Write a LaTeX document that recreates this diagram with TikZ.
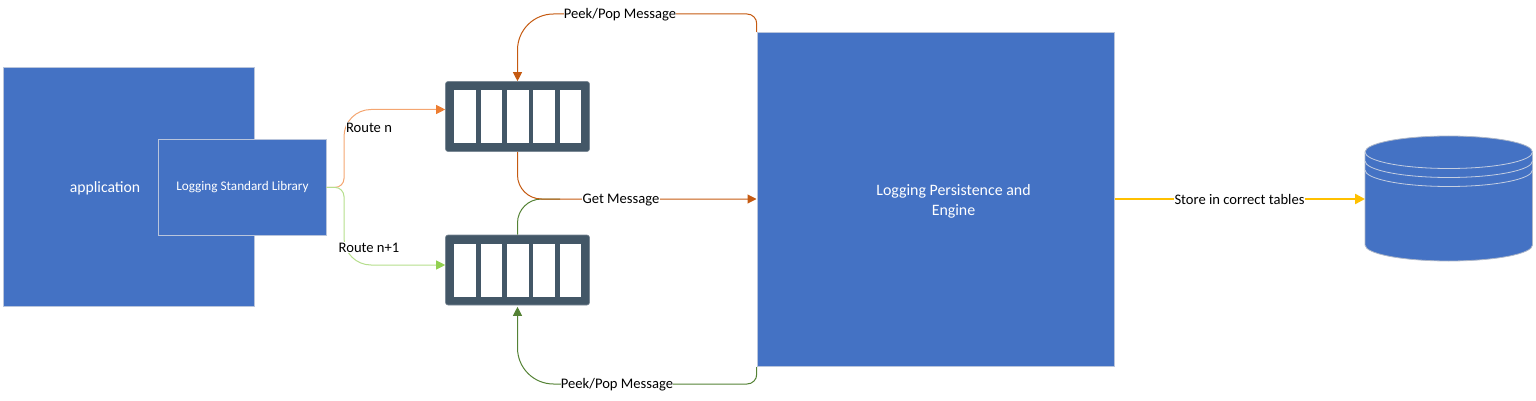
\documentclass[tikz,border=0pt]{standalone}
\usepackage{fontspec}
\setmainfont{Carlito}
\usetikzlibrary{arrows.meta}
\definecolor{boxblue}{HTML}{4472C4}
\definecolor{edgegray}{HTML}{B9C5DC}
\definecolor{queuefill}{HTML}{435767}
\definecolor{orangelight}{HTML}{F4A671}
\definecolor{orangetip}{HTML}{ED7D31}
\definecolor{greenlight}{HTML}{B5DE8C}
\definecolor{greentip}{HTML}{92D050}
\definecolor{orangedark}{HTML}{C55A11}
\definecolor{greendark}{HTML}{548235}
\definecolor{storeyellow}{HTML}{FFC000}
\tikzset{
  x=1pt,y=-1pt,
  bluebox/.style={draw=edgegray,line width=1pt,fill=boxblue,text=white,align=center,inner sep=0pt},
  queuebox/.style={draw=queuefill!70!white,line width=.6pt,fill=queuefill,rounded corners=2.5pt,minimum width=144pt,minimum height=70pt,inner sep=0pt},
  slotbox/.style={fill=white,minimum width=21.5pt,inner sep=0pt,draw=none},
  flow/.style={line width=1pt,-{Triangle[length=9pt,width=9pt]}},
  plainflow/.style={line width=1pt},
  edgelabel/.style={fill=white,inner sep=0.4pt,text=black,font=\fontsize{14.6}{16}\selectfont}
}
\begin{document}
\begin{tikzpicture}
\useasboundingbox (0,0) rectangle (1536,401);
% boxes
\node[bluebox,minimum width=251pt,minimum height=238pt] (app) at (129,187) {};
\node[text=white,font=\fontsize{15.7}{20}\selectfont,inner sep=0pt] (apptext) at (105,188) {application};
\node[bluebox,minimum width=167.5pt,minimum height=95.5pt] (lib) at (242.25,187.25) {};
\node[text=white,font=\fontsize{13.2}{14}\selectfont,inner sep=0pt] (libtext) at (242.5,187.5) {Logging Standard Library};
\node[bluebox,minimum width=357pt,minimum height=334pt] (engine) at (935.5,199.5) {};
\node[text=white,align=center,font=\fontsize{15.9}{20}\selectfont,inner sep=0pt] (enginetext) at (953.5,201.5) {Logging Persistence and\\Engine};
% queues
\node[queuebox] (q1) at (517.5,116.5) {};
\node[queuebox] (q2) at (517.5,270) {};
\foreach \n/\sx in {a/465,b/491.25,c/517.75,d/544,e/570.5}{
  \node[slotbox,minimum height=52.5pt] (q1\n) at (\sx,116.75) {};
  \node[slotbox,minimum height=52.5pt] (q2\n) at (\sx,270.25) {};
}
% database
\filldraw[draw=edgegray!80!gray,line width=.8pt,fill=boxblue]
  (1365,152) arc[start angle=180,end angle=0,x radius=83.75pt,y radius=16pt]
  -- (1532.5,245) arc[start angle=360,end angle=180,x radius=83.75pt,y radius=16pt] -- cycle;
\draw[edgegray!85!white,line width=.8pt] (1365,152) arc[start angle=180,end angle=360,x radius=83.75pt,y radius=16.5pt];
\draw[edgegray!85!white,line width=.8pt] (1365,161) arc[start angle=180,end angle=360,x radius=83.75pt,y radius=16.5pt];
\draw[edgegray!85!white,line width=.8pt] (1365,170) arc[start angle=180,end angle=360,x radius=83.75pt,y radius=16.5pt];
\coordinate (dbin) at (1365,199);
% routes
\draw[line width=1pt,draw=orangelight,-{Triangle[length=9pt,width=9pt,color=orangetip]}] (lib.east) [rounded corners=9pt] -- (344,187.5) [rounded corners=27pt] -- (344,109.5) -- (q1.west |- 0,109.5);
\draw[line width=1pt,draw=greenlight,-{Triangle[length=9pt,width=9pt,color=greentip]}] (lib.east) [rounded corners=9pt] -- (344,187.5) [rounded corners=27pt] -- (344,265) -- (q2.west |- 0,265);
% peek/pop
\draw[flow,draw=orangedark] (engine.north west) [rounded corners=10pt] -- (757,14) [rounded corners=36pt] -- (517.5,14) -- (q1.north);
\draw[flow,draw=greendark,shorten >=1.5pt] (engine.south west) [rounded corners=10pt] -- (757,384) [rounded corners=36pt] -- (517.5,384) -- (q2.south);
% get
\draw[plainflow,draw=greendark] (q2.north) [rounded corners=24pt] -- (517.5,199) -- (560,199);
\draw[flow,draw=orangedark] (q1.south) [rounded corners=24pt] -- (517.5,199) -- (engine.west |- 0,199);
% store
\draw[line width=2.4pt,draw=storeyellow,-{Triangle[length=10pt,width=10pt]}] (engine.east |- 0,199) -- (dbin);
% labels
\node[edgelabel] (lr1) at (369,127.5) {Route n};
\node[edgelabel] (lr2) at (369,247.5) {Route n+1};
\node[edgelabel] (lp1) at (620,15) {Peek/Pop Message};
\node[edgelabel] (lp2) at (617,385) {Peek/Pop Message};
\node[edgelabel] (lg) at (621,200) {Get Message};
\node[edgelabel] (ls) at (1239.5,199.5) {Store in correct tables};
\end{tikzpicture}
\end{document}
